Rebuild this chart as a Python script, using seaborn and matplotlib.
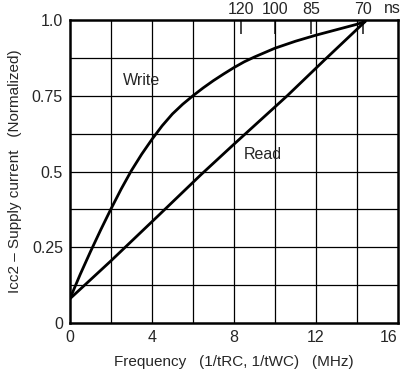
import numpy as np
import pandas as pd
import matplotlib
matplotlib.use("Agg")
import matplotlib.pyplot as plt
import seaborn as sns

# Read-off values (frequency in MHz, normalized supply current)
write_freq = [0, 0.5, 1.0, 1.5, 2.0, 2.5, 3.0, 3.5, 4.0, 4.5, 5.0, 5.5, 6.0, 6.5,
              7.0, 7.5, 8.0, 8.5, 9.0, 10.0, 11.0, 12.0, 13.0, 14.0, 14.4]
write_icc = [0.08, 0.16, 0.235, 0.307, 0.376, 0.442, 0.503, 0.557, 0.606, 0.651, 0.69,
             0.722, 0.75, 0.776, 0.80, 0.822, 0.843, 0.862, 0.878, 0.907, 0.93, 0.95,
             0.968, 0.986, 0.995]
read_freq = [0, 2.0, 4.4, 6.4, 8.0, 10.6, 12.4, 14.4]
read_icc = [0.08, 0.205, 0.36, 0.49, 0.59, 0.75, 0.867, 0.995]

cycle_ns = [120, 100, 85, 70]
x_ticks = [0, 4, 8, 12, 16]
y_ticks = [0, 0.25, 0.5, 0.75, 1.0]
y_labels = ["0", "0.25", "0.5", "0.75", "1.0"]

sns.set_style("white")
plt.rcParams["font.family"] = ["Liberation Sans", "DejaVu Sans"]

df = pd.concat([
    pd.DataFrame({"freq": write_freq, "icc": write_icc, "mode": "Write"}),
    pd.DataFrame({"freq": read_freq, "icc": read_icc, "mode": "Read"}),
])

fig = plt.figure(figsize=(4.04, 3.78), dpi=100)
ax = fig.add_axes([0.173, 0.1455, 0.812, 0.8015])

# grid
for gx in np.arange(2, 16, 2):
    ax.axvline(gx, color="black", lw=0.9, zorder=1)
for gy in np.arange(0.125, 1.0, 0.125):
    ax.axhline(gy, color="black", lw=0.9, zorder=1)

sns.lineplot(data=df, x="freq", y="icc", units="mode", estimator=None,
             color="black", lw=2.0, sort=False, ax=ax, zorder=3)

ax.set_xlim(0, 16)
ax.set_ylim(0, 1.0)
ax.set_xticks(x_ticks)
ax.set_xticklabels([str(t) for t in x_ticks], fontsize=11.5)
ax.get_xticklabels()[-1].set_horizontalalignment("right")
ax.set_yticks(y_ticks)
ax.set_yticklabels(y_labels, fontsize=11.5)
ax.tick_params(length=0, pad=5)
for s in ax.spines.values():
    s.set_linewidth(1.8)
    s.set_color("black")

ax.set_xlabel("Frequency   (1/tRC, 1/tWC)   (MHz)", fontsize=11, labelpad=7)
ax.set_ylabel("Icc2 – Supply current   (Normalized)", fontsize=11, labelpad=7)

# secondary axis: cycle time in ns
top = ax.secondary_xaxis("top", functions=(lambda f: f, lambda f: f))
top.set_xticks([1000.0 / t for t in cycle_ns])
top.set_xticklabels([str(t) for t in cycle_ns], fontsize=11.5)
top.tick_params(direction="in", length=10, width=1.2, pad=2)
top.spines["top"].set_visible(False)
ax.text(15.75, 1.012, "ns", fontsize=11.5, ha="center", va="bottom")

ax.text(3.5, 0.80, "Write", fontsize=11.5, ha="center", va="center")
ax.text(9.4, 0.555, "Read", fontsize=11.5, ha="center", va="center")

fig.savefig("out.png", dpi=100)
